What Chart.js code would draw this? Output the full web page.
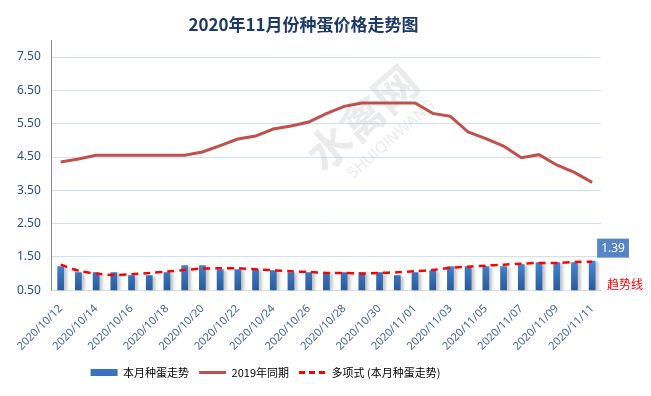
<!DOCTYPE html>
<html>
<head>
<meta charset="utf-8">
<script src="https://cdn.jsdelivr.net/npm/chart.js@4.4.1/dist/chart.umd.min.js"></script>
<style>
  html, body { margin: 0; padding: 0; background: #fff; }
  #wrap { width: 651px; height: 396px; }
</style>
</head>
<body>
<div id="wrap"><canvas id="c" width="651" height="396"></canvas></div>
<script>
// dates du mois (un jour par barre)
const dates = [
  "2020/10/12","2020/10/13","2020/10/14","2020/10/15","2020/10/16","2020/10/17","2020/10/18",
  "2020/10/19","2020/10/20","2020/10/21","2020/10/22","2020/10/23","2020/10/24","2020/10/25",
  "2020/10/26","2020/10/27","2020/10/28","2020/10/29","2020/10/30","2020/10/31","2020/11/01",
  "2020/11/02","2020/11/03","2020/11/04","2020/11/05","2020/11/06","2020/11/07","2020/11/08",
  "2020/11/09","2020/11/10","2020/11/11"
];

// 本月种蛋走势 (barres)
const thisMonth = [
  1.22, 1.04, 1.04, 1.04, 0.95, 0.95, 1.04, 1.25, 1.25, 1.13, 1.13, 1.13, 1.10, 1.04, 1.04,
  1.04, 1.04, 1.04, 1.04, 0.95, 1.04, 1.10, 1.22, 1.22, 1.22, 1.22, 1.28, 1.34, 1.34, 1.34, 1.39
];

// 2019年同期 (ligne rouge)
const lastYear = [
  4.35, 4.44, 4.55, 4.55, 4.55, 4.55, 4.55, 4.55, 4.65, 4.84, 5.04, 5.13, 5.34, 5.43, 5.55,
  5.80, 6.02, 6.12, 6.12, 6.12, 6.12, 5.81, 5.72, 5.25, 5.05, 4.83, 4.48, 4.57, 4.26, 4.04, 3.74
];

// 多项式趋势线
const trend = [
  1.27, 1.09, 1.00, 0.96, 0.98, 1.02, 1.06, 1.11, 1.15, 1.16, 1.16, 1.13, 1.10, 1.07, 1.05,
  1.02, 1.02, 1.00, 1.02, 1.04, 1.07, 1.11, 1.17, 1.21, 1.24, 1.27, 1.30, 1.32, 1.32, 1.35, 1.36
];

const yTicks = [0.5, 1.5, 2.5, 3.5, 4.5, 5.5, 6.5, 7.5];

const CJK = "'Noto Sans CJK SC', 'Noto Sans', sans-serif";

// dégradé bleu des barres
function barGradient(context) {
  const chart = context.chart;
  const area = chart.chartArea;
  if (!area) return "#3a72bf";
  const y = chart.scales.y;
  const g = chart.ctx.createLinearGradient(0, y.getPixelForValue(1.4), 0, area.bottom);
  g.addColorStop(0, "#4589d6");
  g.addColorStop(1, "#2a5b9c");
  return g;
}

// ombre légère des barres + filigrane + étiquettes
const extras = {
  id: "extras",
  afterLayout(chart) {
    // légende décalée vers la gauche comme dans l'original
    chart.legend.right -= 76;
  },
  beforeDatasetsDraw(chart) {
    const ctx = chart.ctx;
    ctx.save();
    ctx.translate(362, 118);
    ctx.rotate(-0.72);
    ctx.fillStyle = "rgba(175,175,175,0.25)";
    ctx.font = "bold 44px " + CJK;
    ctx.textAlign = "center";
    ctx.textBaseline = "middle";
    ctx.fillText("水禽网", 0, 0);
    ctx.font = "15px 'DejaVu Sans'";
    ctx.fillText("SHUIQINWANG", 8, 36);
    ctx.restore();
  },
  beforeDatasetDraw(chart, args) {
    if (args.index !== 0) return;
    const ctx = chart.ctx;
    ctx.save();
    ctx.shadowColor = "rgba(0,0,0,0.22)";
    ctx.shadowOffsetX = 3;
    ctx.shadowOffsetY = 1;
    ctx.shadowBlur = 3;
  },
  afterDatasetDraw(chart, args) {
    if (args.index !== 0) return;
    chart.ctx.restore();
  },
  afterDatasetsDraw(chart) {
    const ctx = chart.ctx;
    const meta = chart.getDatasetMeta(0);
    const last = meta.data[meta.data.length - 1];
    const txt = thisMonth[thisMonth.length - 1].toFixed(2);
    ctx.save();
    ctx.font = "12px 'Noto Sans'";
    const w = ctx.measureText(txt).width + 8;
    const h = 19;
    const bx = last.x + 5, by = last.y - 3 - h;
    ctx.fillStyle = "#5585c2";
    ctx.fillRect(bx, by, w, h);
    ctx.fillStyle = "#fff";
    ctx.textBaseline = "middle";
    ctx.fillText(txt, bx + 4, by + h / 2 + 0.5);
    ctx.fillStyle = "#ff0000";
    ctx.font = "12px " + CJK;
    ctx.fillText("趋势线", chart.chartArea.right + 6, chart.chartArea.bottom - 6);
    ctx.restore();
  }
};

new Chart(document.getElementById("c"), {
  data: {
    labels: dates,
    datasets: [
      {
        type: "bar",
        label: "本月种蛋走势",
        data: thisMonth,
        backgroundColor: barGradient,
        categoryPercentage: 1,
        barPercentage: 0.38,
        order: 3
      },
      {
        type: "line",
        label: "2019年同期",
        data: lastYear,
        borderColor: "#c0504d",
        borderWidth: 3,
        pointRadius: 0,
        tension: 0,
        order: 2
      },
      {
        type: "line",
        label: "多项式 (本月种蛋走势)",
        data: trend,
        borderColor: "#ff0000",
        borderWidth: 2.5,
        borderDash: [7, 5],
        pointRadius: 0,
        tension: 0.3,
        order: 1
      }
    ]
  },
  options: {
    responsive: false,
    animation: false,
    events: [],
    layout: { padding: { left: 6, right: 50, bottom: 8, top: 0 } },
    plugins: {
      title: {
        display: true,
        text: "2020年11月份种蛋价格走势图",
        color: "#1f3a68",
        font: { family: CJK, size: 17, weight: "bold" },
        padding: { top: 14, bottom: 6 }
      },
      legend: {
        position: "bottom",
        labels: {
          usePointStyle: true,
          pointStyleWidth: 27,
          boxHeight: 7,
          padding: 10,
          color: "#000",
          font: { family: CJK, size: 11 },
          generateLabels() {
            return [
              { text: "本月种蛋走势", pointStyle: "rect", fillStyle: "#3a72bf", strokeStyle: "#3a72bf", lineWidth: 0, datasetIndex: 0 },
              { text: "2019年同期", pointStyle: "line", fillStyle: "#c0504d", strokeStyle: "#c0504d", lineWidth: 3, datasetIndex: 1 },
              { text: "多项式 (本月种蛋走势)", pointStyle: "line", fillStyle: "#ff0000", strokeStyle: "#ff0000", lineWidth: 3, lineDash: [6, 4], datasetIndex: 2 }
            ];
          }
        }
      },
      tooltip: { enabled: false }
    },
    scales: {
      x: {
        offset: true,
        grid: { display: false },
        border: { color: "#d0e0f0" },
        ticks: {
          autoSkip: false,
          maxRotation: 45,
          minRotation: 45,
          padding: 4,
          color: "#44618f",
          font: { family: "'Noto Sans', sans-serif", size: 11 },
          callback(v, i) { return i % 2 === 0 ? dates[i] : ""; }
        }
      },
      y: {
        min: 0.5,
        max: 8,
        afterBuildTicks(scale) { scale.ticks = yTicks.map(v => ({ value: v })); },
        grid: { color: "#d0e0f0", drawTicks: false },
        border: { color: "#8c8c8c" },
        ticks: {
          padding: 11,
          color: "#29508a",
          font: { family: "'Noto Sans', sans-serif", size: 12 },
          callback(v) { return Number(v).toFixed(2); }
        }
      }
    }
  },
  plugins: [extras]
});
</script>
</body>
</html>
